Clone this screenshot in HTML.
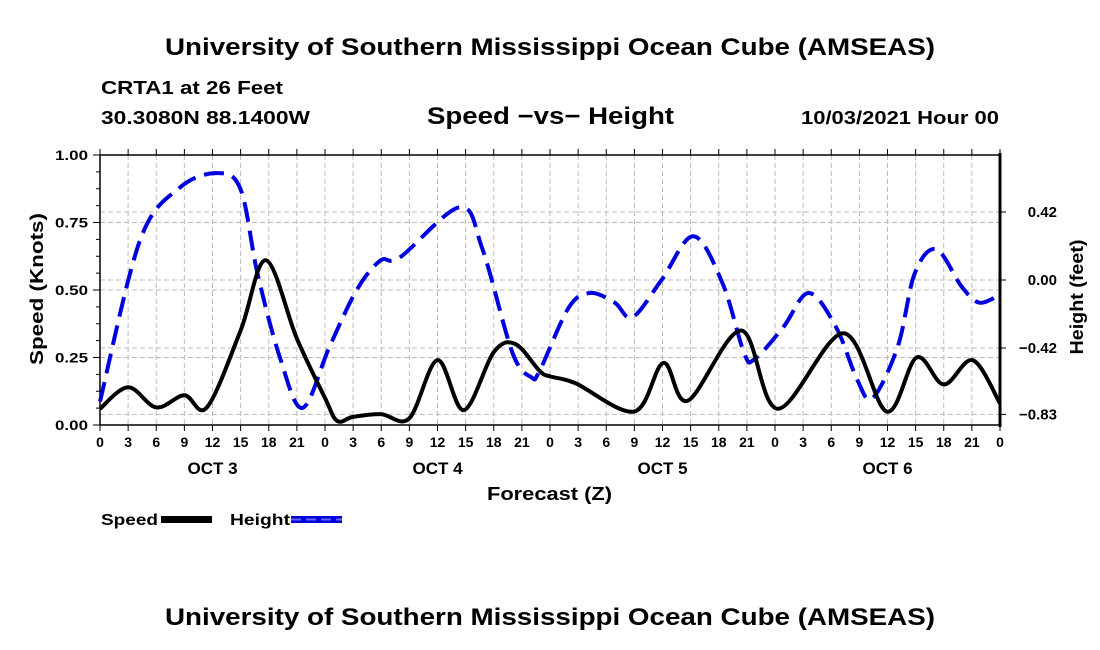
<!DOCTYPE html>
<html><head><meta charset="utf-8"><style>
body{margin:0;background:#fff;}
svg{display:block;font-family:"Liberation Sans",Arial,sans-serif;font-weight:bold;}
</style></head><body>
<svg id="chart" width="1100" height="650" viewBox="0 0 1100 650">
<rect width="1100" height="650" fill="#fff"/>
<text x="165" y="55" font-size="24" textLength="770" lengthAdjust="spacingAndGlyphs">University of Southern Mississippi Ocean Cube (AMSEAS)</text>
<text x="101" y="94" font-size="18" textLength="182" lengthAdjust="spacingAndGlyphs">CRTA1 at 26 Feet</text>
<text x="101" y="124" font-size="18" textLength="209" lengthAdjust="spacingAndGlyphs">30.3080N  88.1400W</text>
<text x="427" y="124" font-size="24" textLength="247" lengthAdjust="spacingAndGlyphs">Speed −vs− Height</text>
<text x="801" y="124" font-size="18" textLength="198" lengthAdjust="spacingAndGlyphs">10/03/2021 Hour 00</text>
<text x="165" y="625" font-size="24" textLength="770" lengthAdjust="spacingAndGlyphs">University of Southern Mississippi Ocean Cube (AMSEAS)</text>
<g id="grid"></g>
<g id="axes"></g>
<g id="series"></g>
<text x="0" y="0" font-size="18" text-anchor="middle" textLength="152" lengthAdjust="spacingAndGlyphs" transform="translate(43,289) rotate(-90)">Speed (Knots)</text>
<text x="0" y="0" font-size="18" text-anchor="middle" textLength="115" lengthAdjust="spacingAndGlyphs" transform="translate(1083,297) rotate(-90)">Height (feet)</text>
<text x="487" y="500" font-size="18" textLength="125" lengthAdjust="spacingAndGlyphs">Forecast (Z)</text>
<g>
<text x="101" y="525" font-size="16" textLength="57" lengthAdjust="spacingAndGlyphs">Speed</text>
<rect x="161" y="516" width="51" height="7" fill="#000"/>
<text x="230" y="525" font-size="16" textLength="60" lengthAdjust="spacingAndGlyphs">Height</text>
<line x1="291" y1="519.5" x2="342" y2="519.5" stroke="#0000dd" stroke-width="7"/>
<line x1="291" y1="519.5" x2="342" y2="519.5" stroke="#66f" stroke-width="2" stroke-dasharray="10,5"/>
</g>
</svg>
<script>
const speedHours=[0,3,6,9,11.4,15,17.7,21,24,25.3,27,30,33,36,38.8,42,44.3,46.9,48,50.7,57,60.1,62.7,68.4,72.3,79.3,83.9,87.1,90,93.1,96];
const speedValues=[0.06,0.14,0.065,0.11,0.065,0.35,0.61,0.32,0.1,0.015,0.03,0.04,0.025,0.24,0.055,0.27,0.3,0.2,0.18,0.155,0.05,0.23,0.09,0.35,0.06,0.34,0.05,0.25,0.15,0.24,0.08];
const heightHours=[0,4.3,8.5,12.5,15,16.8,19.2,21.6,24.5,27.4,29.9,32,38.4,40.8,44,46,46.9,50,52.3,54.9,56.8,59.9,63.3,66.4,68.7,69.8,72.9,75.6,78.5,80.8,82.4,85.1,86.9,89.2,91.9,93.8,96];
const heightValues=[-0.75,0.25,0.57,0.66,0.56,0.04,-0.48,-0.79,-0.41,-0.06,0.12,0.14,0.45,0.19,-0.45,-0.6,-0.56,-0.17,-0.08,-0.14,-0.23,0,0.27,-0.02,-0.45,-0.49,-0.29,-0.08,-0.29,-0.62,-0.73,-0.41,0.04,0.19,-0.04,-0.14,-0.09];
const speedTicks=[0,0.25,0.5,0.75,1.0];
const speedTickLabels=["0.00","0.25","0.50","0.75","1.00"];
const heightTicks=[0.42,0,-0.42,-0.83];
const heightTickLabels=["0.42","0.00","−0.42","−0.83"];
const hourTickLabels=["0","3","6","9","12","15","18","21"];
const dayLabels=["OCT 3","OCT 4","OCT 5","OCT 6"];

const X0=100,X1=1000,Y0=425,Y1=155;
const xS=h=>X0+(X1-X0)*h/96;
const yS=v=>Y0-(Y0-Y1)*v;
const yH=v=>280-161.9*v;
const NS="http://www.w3.org/2000/svg";
function mk(tag,attrs,parent){const e=document.createElementNS(NS,tag);for(const k in attrs)e.setAttribute(k,attrs[k]);parent.appendChild(e);return e;}
const grid=document.getElementById('grid'),axes=document.getElementById('axes'),series=document.getElementById('series');
for(let h=3;h<96;h+=3){const l=mk('line',{x1:xS(h),x2:xS(h),y1:Y1,y2:Y0,stroke:'#bbb','stroke-dasharray':'5,3'},grid);

}
speedTicks.slice(1,4).forEach(v=>{const l=mk('line',{x1:X0,x2:X1,y1:yS(v),y2:yS(v),stroke:'#bbb','stroke-dasharray':'5,3'},grid);

});
heightTicks.forEach(v=>{const l=mk('line',{x1:X0,x2:X1,y1:yH(v),y2:yH(v),stroke:'#bbb','stroke-dasharray':'5,3'},grid);

});
mk('line',{x1:X0,x2:X1,y1:Y1,y2:Y1,stroke:'#000','stroke-width':1.5},axes);
mk('line',{x1:X0,x2:X1,y1:Y0,y2:Y0,stroke:'#000','stroke-width':1.5},axes);
mk('line',{x1:X0,x2:X0,y1:Y1,y2:Y0,stroke:'#000','stroke-width':1.5},axes);
mk('line',{x1:X1,x2:X1,y1:Y1-2,y2:Y0+2,stroke:'#000','stroke-width':3},axes);
for(let v=0;v<=1.0001;v+=0.0625){const big=Math.abs(v*4-Math.round(v*4))<1e-6;mk('line',{x1:X0-(big?7:4),x2:X0,y1:yS(v),y2:yS(v),stroke:'#000'},axes);}
speedTicks.forEach((v,i)=>{const t=mk('text',{x:X0-12,y:yS(v)+5,'font-size':14,'text-anchor':'end',textLength:33,lengthAdjust:'spacingAndGlyphs'},axes);t.textContent=speedTickLabels[i];

});
heightTicks.forEach((v,i)=>{mk('line',{x1:X1,x2:X1+6,y1:yH(v),y2:yH(v),stroke:'#000'},axes);const t=mk('text',{x:X1+57,y:yH(v)+5,'font-size':15,'text-anchor':'end'},axes);t.textContent=heightTickLabels[i];

});
for(let h=0;h<=96;h+=3){mk('line',{x1:xS(h),x2:xS(h),y1:Y0,y2:Y0+6,stroke:'#000'},axes);mk('line',{x1:xS(h),x2:xS(h),y1:Y1,y2:Y1-6,stroke:'#000'},axes);
const t=mk('text',{x:xS(h),y:Y0+22,'font-size':14,'text-anchor':'middle'},axes);t.textContent=hourTickLabels[(h/3)%8];

}
dayLabels.forEach((d,i)=>{const t=mk('text',{x:xS(12+24*i),y:Y0+49,'font-size':17,'text-anchor':'middle'},axes);t.textContent=d;

});
function smooth(hs,vs,ys){
  const idx=hs.map((h,i)=>i).sort((a,b)=>hs[a]-hs[b]);
  const p=idx.map(i=>[xS(hs[i]),ys(vs[i])]);
  let d='M'+p[0][0]+','+p[0][1];
  for(let i=0;i<p.length-1;i++){const a=p[Math.max(0,i-1)],b=p[i],c=p[i+1],e=p[Math.min(p.length-1,i+2)];
    const c1=[b[0]+(c[0]-a[0])/6,b[1]+(c[1]-a[1])/6],c2=[c[0]-(e[0]-b[0])/6,c[1]-(e[1]-b[1])/6];
    d+=` C${c1[0]},${c1[1]} ${c2[0]},${c2[1]} ${c[0]},${c[1]}`;}
  return d;}
const hp=mk('path',{d:smooth(heightHours,heightValues,yH),fill:'none',stroke:'#0000dd','stroke-width':4,'stroke-dasharray':'20,9'},series);


const sp=mk('path',{d:smooth(speedHours,speedValues,yS),fill:'none',stroke:'#000','stroke-width':4},series);


</script>
</body></html>
